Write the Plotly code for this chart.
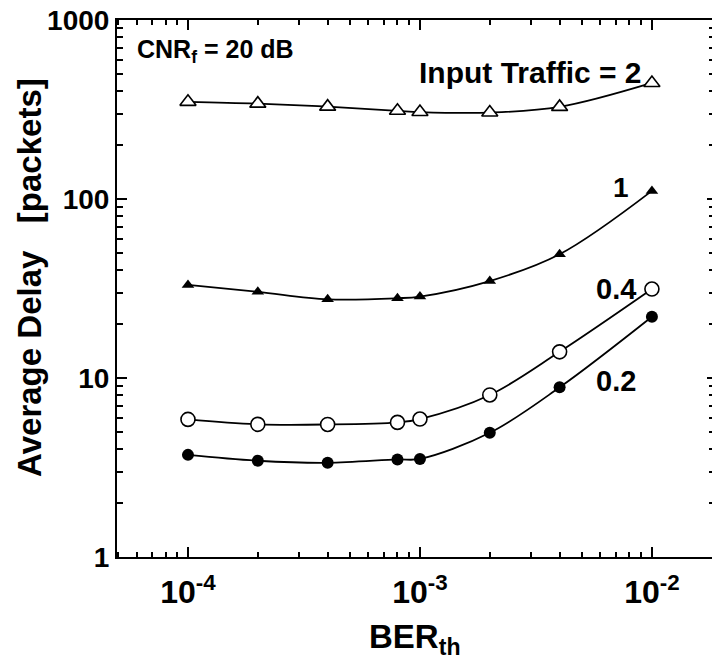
import math
import plotly.graph_objects as go

# BER threshold values (x) and average delay in packets for each input traffic load
ber = [1e-4, 2e-4, 4e-4, 8e-4, 1e-3, 2e-3, 4e-3, 1e-2]
delay_traffic_2 = [349, 341, 328, 311, 306, 304, 327, 445]
delay_traffic_1 = [33.1, 30.3, 27.5, 27.9, 28.5, 34.8, 49.1, 111]
delay_traffic_04 = [5.87, 5.51, 5.50, 5.65, 5.90, 8.04, 14.0, 31.4]
delay_traffic_02 = [3.72, 3.45, 3.36, 3.51, 3.53, 4.94, 8.87, 22.0]

x_tick_vals = [1e-4, 1e-3, 1e-2]
x_tick_text = ["10<sup>-4</sup>", "10<sup>-3</sup>", "10<sup>-2</sup>"]
y_tick_vals = [1, 10, 100, 1000]
y_tick_text = ["1", "10", "100", "1000"]

x_minor = [m * 10.0 ** e for e in (-5, -4, -3, -2) for m in range(2, 10)]
y_minor = [m * 10.0 ** e for e in (0, 1, 2) for m in range(2, 10)]

FONT = "Liberation Sans, Arial, Helvetica, sans-serif"

fig = go.Figure()

series = [
    (delay_traffic_2, dict(symbol="triangle-up", size=14, color="white",
                           line=dict(color="black", width=1.6))),
    (delay_traffic_1, dict(symbol="triangle-up", size=11, color="black",
                           line=dict(color="black", width=0))),
    (delay_traffic_04, dict(symbol="circle", size=14, color="white",
                            line=dict(color="black", width=1.6))),
    (delay_traffic_02, dict(symbol="circle", size=12, color="black",
                            line=dict(color="black", width=0))),
]
for values, marker in series:
    fig.add_trace(go.Scatter(
        x=ber, y=values, mode="lines+markers",
        line=dict(color="black", width=1.8, shape="spline", smoothing=1.0),
        marker=marker, cliponaxis=False, hoverinfo="skip",
    ))

# empty trace so the right-hand tick axis is drawn
fig.add_trace(go.Scatter(x=[None], y=[None], yaxis="y2", showlegend=False,
                         hoverinfo="skip"))

axis_common = dict(
    type="log", showgrid=False, zeroline=False,
    showline=True, linecolor="black", linewidth=2,
    ticks="inside", ticklen=10, tickwidth=1.5, tickcolor="black",
)

fig.update_xaxes(
    **axis_common,
    range=[-4.306, -1.741], mirror="ticks",
    tickmode="array", tickvals=x_tick_vals, ticktext=x_tick_text,
    tickfont=dict(family=FONT, size=32, color="black", weight="bold"),
    ticklabelstandoff=6,
    minor=dict(ticks="inside", ticklen=5, tickwidth=1.5, tickcolor="black",
               tickvals=x_minor, showgrid=False),
)
fig.update_yaxes(
    **axis_common,
    range=[0, 3], mirror=False,
    tickmode="array", tickvals=y_tick_vals, ticktext=y_tick_text,
    tickfont=dict(family=FONT, size=28, color="black", weight="bold"),
    minor=dict(ticks="inside", ticklen=6, tickwidth=1.5, tickcolor="black",
               tickvals=y_minor, showgrid=False),
)

fig.update_layout(
    width=712, height=664,
    margin=dict(l=117, r=0, t=20, b=107),
    plot_bgcolor="white", paper_bgcolor="white",
    showlegend=False,
    font=dict(family=FONT, color="black"),
    yaxis2=dict(
        type="log", range=[0, 3], overlaying="y", side="right",
        showgrid=False, zeroline=False, showline=False, showticklabels=False,
        ticks="inside", ticklen=5, tickwidth=1.5, tickcolor="black",
        tickmode="array", tickvals=y_tick_vals,
        minor=dict(ticks="inside", ticklen=3, tickwidth=1.5, tickcolor="black",
                   tickvals=y_minor, showgrid=False),
    ),
)

bold = dict(family=FONT, color="black", weight="bold")

# axis titles
fig.add_annotation(text="Average Delay\u00a0\u00a0 [packets]", textangle=-90,
                   xref="paper", yref="paper", x=-0.146, y=0.52,
                   xanchor="center", yanchor="middle", showarrow=False,
                   font=dict(size=33, **bold))
fig.add_annotation(text="BER<sub>th</sub>",
                   xref="paper", yref="paper", x=0.5, y=-0.152,
                   xanchor="center", yanchor="middle", showarrow=False,
                   font=dict(size=33, **bold))

# operating condition
fig.add_annotation(text="CNR<sub>f</sub> = 20 dB",
                   xref="paper", yref="paper", x=0.030, y=0.942,
                   xanchor="left", yanchor="middle", showarrow=False,
                   font=dict(size=25, **bold))

# series labels beside the last point of each curve
labels = [
    ("Input Traffic = 2", delay_traffic_2[-1], -8, 10, 30),
    ("1", delay_traffic_1[-1], -21, 3, 28),
    ("0.4", delay_traffic_04[-1], -14, 0, 29),
    ("0.2", delay_traffic_02[-1], -14, -64, 29),
]
for text, yval, dx, dy, size in labels:
    fig.add_annotation(text=text, x=math.log10(ber[-1]), y=math.log10(yval),
                       xref="x", yref="y", xanchor="right", yanchor="middle",
                       xshift=dx, yshift=dy, showarrow=False,
                       font=dict(size=size, **bold))

fig.write_html("out.html")
